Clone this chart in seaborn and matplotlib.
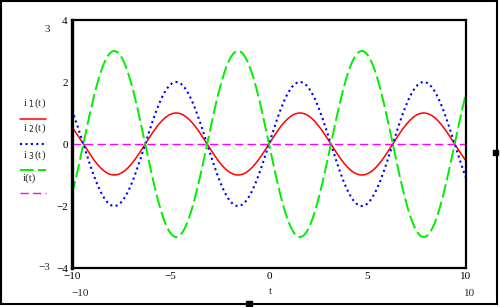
import numpy as np
import pandas as pd
import seaborn as sns
from matplotlib import pyplot as plt
from matplotlib.patches import Rectangle

t_min, t_max = -10, 10
amp_i1 = 1.0
amp_i2 = 2.0
amp_i3 = -3.0
names = ['i1', 'i2', 'i3', 'i']
colors = ['#ff0000', '#0000ff', '#00ee00', '#ff00ff']
xticks = [-10, -5, 0, 5, 10]
yticks = [-4, -2, 0, 2, 4]

t = np.linspace(t_min, t_max, 801)
df = pd.DataFrame({'t': t,
                   'i1': amp_i1 * np.sin(t),
                   'i2': amp_i2 * np.sin(t),
                   'i3': amp_i3 * np.sin(t)})
df['i'] = df['i1'] + df['i2'] + df['i3']

sns.set_style('white')
plt.rcParams['font.family'] = ['Liberation Serif', 'DejaVu Serif']

fig = plt.figure(figsize=(5, 3.07), dpi=100)
ax = fig.add_axes([72/500, 1-268/307, 394/500, 248/307])

styles = [dict(linestyle='-', linewidth=1.1),
          dict(linestyle=(0, (1, 1.6)), linewidth=1.5),
          dict(linestyle=(0, (7, 2.2)), linewidth=1.4),
          dict(linestyle=(0, (6, 3)), linewidth=1.0)]
for n, c, s in zip(names, colors, styles):
    sns.lineplot(data=df, x='t', y=n, color=c, ax=ax, **s)

ax.set_xlim(t_min, t_max)
ax.set_ylim(-4, 4)
ax.set_xticks(xticks)
ax.set_yticks(yticks)
ax.set_xticklabels(['\u221210', '\u22125', '0', '5', '10'])
ax.set_yticklabels(['\u22124', '\u22122', '0', '2', '4'])
ax.tick_params(direction='in', length=7, width=1.5, labelsize=8, pad=3, colors='black')
ax.set_xlabel('')
ax.set_ylabel('')
for sp in ax.spines.values():
    sp.set_color('black')
    sp.set_linewidth(1.6)
ax.spines['left'].set_linewidth(2.4)

# legend-ish y label block on the left
labels = [('i $_1$(t)', 103, 119), ('i $_2$(t)', 128, 144),
          ('i $_3$(t)', 155, 170), ('i(t)', 178, 193)]
for (lab, ty, ly), c, s in zip(labels, colors, styles):
    fig.text(23/500, 1-ty/307, lab, fontsize=8, va='center', ha='left')
    fig.add_artist(plt.Line2D([20/500, 46/500], [1-ly/307, 1-ly/307],
                              color=c, **s))

# Mathcad range markers
fig.text(47/500, 1-30/307, '3', fontsize=8, ha='center', va='center')
fig.text(44/500, 1-267/307, '\u22123', fontsize=8, ha='center', va='center')
fig.text(80/500, 1-293/307, '\u221210', fontsize=8, ha='center', va='center')
fig.text(470/500, 1-293/307, '10', fontsize=8, ha='center', va='center')
fig.text(270/500, 1-292/307, 't', fontsize=8, ha='center', va='center')

# frame and selection handles
fig.add_artist(Rectangle((1/500, 1-304/307), 496/500, 303/307, fill=False,
                         edgecolor='black', linewidth=1.5, transform=fig.transFigure))
fig.add_artist(Rectangle((246/500, 1-306/307), 6/500, 5/307, color='black',
                         transform=fig.transFigure))
fig.add_artist(Rectangle((493/500, 1-155/307), 5/500, 5/307, color='black',
                         transform=fig.transFigure))

fig.savefig('out.png', dpi=100)
